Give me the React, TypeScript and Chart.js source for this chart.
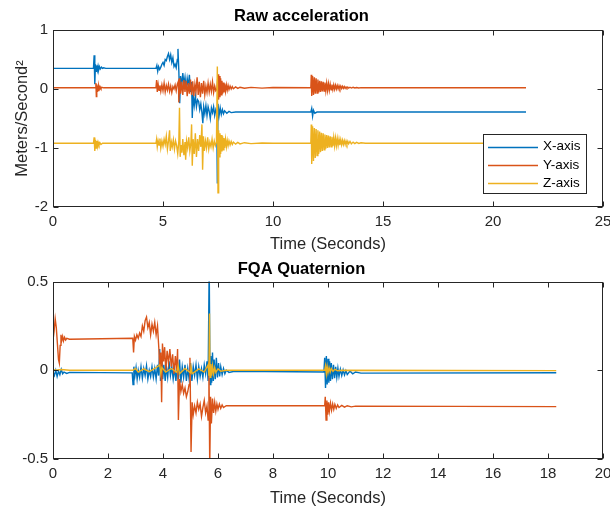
import React, { useEffect, useRef } from "react";
import { Chart, registerables } from "chart.js";

Chart.register(...registerables);

const FONT = "'Liberation Sans', Arial, Helvetica, sans-serif";
const COLORS = ["#0072BD", "#D95319", "#EDB120"];
const seriesNames = ["X-axis", "Y-axis", "Z-axis"];

// ---------- Raw acceleration (top) ----------
const accXTime = [
  0, 1.84, 1.87, 1.9, 1.93, 1.96, 1.99, 2.02, 2.05, 2.08,
  2.11, 2.15, 2.2, 2.25, 2.3, 2.4, 4.68, 4.72, 4.76, 4.8,
  4.85, 4.9, 4.95, 5.0, 5.05, 5.1, 5.15, 5.2, 5.25, 5.3,
  5.35, 5.4, 5.45, 5.5, 5.55, 5.6, 5.65, 5.68, 5.72, 5.76,
  5.8, 5.85, 5.9, 5.95, 6.0, 6.05, 6.1, 6.15, 6.2, 6.25,
  6.3, 6.33, 6.37, 6.42, 6.47, 6.52, 6.57, 6.62, 6.67, 6.72,
  6.77, 6.81, 6.85, 6.9, 6.95, 7.0, 7.05, 7.1, 7.15, 7.2,
  7.25, 7.3, 7.35, 7.4, 7.44, 7.47, 7.5, 7.55, 7.6, 7.65,
  7.7, 7.75, 7.8, 7.9, 8.0, 8.1, 8.3, 11.72, 11.76, 11.8,
  11.84, 11.9, 12.0, 21.5,
];
const accX = [
  0.35, 0.35, 0.57, 0.08, 0.42, 0.3, 0.4, 0.32, 0.39, 0.33,
  0.38, 0.34, 0.37, 0.35, 0.36, 0.35, 0.35, 0.4, 0.3, 0.38,
  0.33, 0.37, 0.42, 0.45, 0.4, 0.5, 0.48, 0.55, 0.6, 0.5,
  0.58, 0.45, 0.53, 0.38, 0.42, 0.36, 0.5, 0.68, 0.3, -0.24,
  0.22, 0.05, 0.27, 0.08, 0.2, 0.0, 0.18, 0.05, 0.24, -0.05,
  0.12, -0.49, -0.1, -0.28, -0.12, -0.3, -0.18, -0.21, -0.35, -0.25,
  -0.4, -0.58, -0.3, -0.42, -0.28, -0.45, -0.3, -0.38, -0.5, -0.32,
  -0.4, -0.3, -0.45, -0.35, -0.4, -1.6, -0.25, -0.45, -0.32, -0.43,
  -0.35, -0.42, -0.37, -0.41, -0.38, -0.4, -0.39, -0.39, -0.33, -0.46,
  -0.36, -0.41, -0.39, -0.39,
];

const accYTime = [
  0, 1.93, 1.95, 1.97, 1.99, 2.01, 2.03, 2.05, 2.08, 2.11,
  2.14, 2.18, 2.22, 2.3, 4.68, 4.71, 4.74, 4.78, 4.82, 4.86,
  4.9, 4.95, 5.0, 5.05, 5.1, 5.15, 5.2, 5.25, 5.3, 5.35,
  5.4, 5.45, 5.5, 5.55, 5.6, 5.65, 5.7, 5.72, 5.76, 5.8,
  5.85, 5.9, 5.95, 6.0, 6.05, 6.1, 6.15, 6.2, 6.25, 6.3,
  6.35, 6.4, 6.45, 6.5, 6.55, 6.6, 6.65, 6.7, 6.75, 6.8,
  6.85, 6.9, 6.95, 7.0, 7.05, 7.1, 7.15, 7.2, 7.25, 7.3,
  7.35, 7.4, 7.45, 7.5, 7.53, 7.56, 7.59, 7.62, 7.65, 7.68,
  7.71, 7.74, 7.77, 7.8, 7.84, 7.88, 7.92, 7.96, 8.0, 8.05,
  8.1, 8.15, 8.2, 8.3, 8.4, 8.5, 8.7, 9.0, 9.5, 10.0,
  11.72, 11.74, 11.76, 11.8, 11.84, 11.88, 11.92, 11.96, 12.0, 12.04,
  12.08, 12.12, 12.16, 12.2, 12.24, 12.28, 12.32, 12.36, 12.4, 12.44,
  12.48, 12.52, 12.56, 12.6, 12.64, 12.68, 12.72, 12.76, 12.8, 12.84,
  12.88, 12.92, 12.96, 13.0, 13.04, 13.08, 13.12, 13.16, 13.2, 13.24,
  13.28, 13.32, 13.36, 13.4, 13.44, 13.5, 13.56, 13.64, 13.72, 13.8,
  13.9, 14.0, 14.2, 21.5,
];
const accY = [
  0.02, 0.02, 0.1, -0.13, 0.08, -0.04, 0.06, -0.02, 0.05, 0.0,
  0.04, 0.01, 0.03, 0.02, 0.02, 0.15, -0.05, 0.08, -0.02, 0.06,
  -0.04, 0.07, -0.03, 0.1, -0.05, 0.06, -0.02, 0.08, -0.04, 0.05,
  -0.06, 0.04, 0.0, 0.07, -0.03, 0.08, 0.13, -0.23, 0.18, -0.08,
  0.12, -0.1, 0.15, -0.05, 0.14, -0.12, 0.1, -0.08, 0.16, -0.1,
  0.13, -0.12, 0.08, -0.05, 0.2, -0.1, 0.12, -0.14, 0.1, -0.08,
  0.14, -0.1, 0.05, -0.06, 0.1, -0.05, 0.08, -0.04, 0.12, -0.06,
  0.05, -0.03, 0.0, 0.25, -0.18, 0.22, -0.14, 0.18, -0.1, 0.14,
  -0.08, 0.11, -0.06, 0.09, -0.04, 0.07, -0.02, 0.06, -0.01, 0.05,
  0.0, 0.04, 0.005, 0.035, 0.01, 0.03, 0.012, 0.028, 0.015, 0.025,
  0.02, 0.24, -0.12, 0.22, -0.1, 0.2, -0.08, 0.18, -0.07, 0.16,
  -0.06, 0.14, -0.05, 0.13, -0.04, 0.12, -0.035, 0.11, -0.03, 0.1,
  -0.025, 0.09, -0.02, 0.08, -0.015, 0.075, -0.01, 0.07, -0.005, 0.065,
  0.0, 0.06, 0.003, 0.055, 0.006, 0.05, 0.008, 0.045, 0.01, 0.04,
  0.012, 0.035, 0.014, 0.032, 0.015, 0.03, 0.016, 0.028, 0.017, 0.026,
  0.018, 0.024, 0.02, 0.02,
];

const accZTime = [
  0, 1.84, 1.87, 1.9, 1.93, 1.96, 1.99, 2.02, 2.05, 2.09,
  2.13, 2.18, 2.25, 4.68, 4.71, 4.74, 4.78, 4.82, 4.86, 4.9,
  4.95, 5.0, 5.05, 5.1, 5.15, 5.2, 5.25, 5.3, 5.33, 5.38,
  5.42, 5.47, 5.52, 5.57, 5.62, 5.67, 5.72, 5.75, 5.78, 5.82,
  5.86, 5.9, 5.95, 6.0, 6.03, 6.07, 6.12, 6.17, 6.22, 6.27,
  6.3, 6.33, 6.37, 6.42, 6.47, 6.52, 6.57, 6.62, 6.67, 6.72,
  6.77, 6.8, 6.84, 6.88, 6.93, 6.98, 7.03, 7.08, 7.13, 7.18,
  7.23, 7.28, 7.33, 7.38, 7.43, 7.47, 7.5, 7.53, 7.56, 7.59,
  7.62, 7.65, 7.68, 7.71, 7.74, 7.77, 7.8, 7.84, 7.88, 7.92,
  7.96, 8.0, 8.05, 8.1, 8.15, 8.2, 8.3, 8.4, 8.5, 8.7,
  9.0, 9.5, 10.0, 11.72, 11.74, 11.76, 11.8, 11.84, 11.88, 11.92,
  11.96, 12.0, 12.04, 12.08, 12.12, 12.16, 12.2, 12.24, 12.28, 12.32,
  12.36, 12.4, 12.44, 12.48, 12.52, 12.56, 12.6, 12.64, 12.68, 12.72,
  12.76, 12.8, 12.84, 12.88, 12.92, 12.96, 13.0, 13.04, 13.08, 13.12,
  13.16, 13.2, 13.24, 13.28, 13.32, 13.36, 13.4, 13.44, 13.5, 13.56,
  13.64, 13.72, 13.8, 13.9, 14.0, 14.2, 21.5,
];
const accZ = [
  -0.92, -0.92, -0.82, -1.05, -0.86, -1.0, -0.88, -0.97, -0.9, -0.95,
  -0.91, -0.94, -0.92, -0.92, -0.85, -0.98, -0.88, -0.95, -0.84, -1.0,
  -0.88, -0.97, -0.85, -0.94, -0.8, -1.02, -0.88, -0.7, -1.05, -0.9,
  -0.98, -0.86, -1.02, -0.88, -0.96, -1.1, -0.88, -0.32, -1.15, -0.95,
  -1.08, -0.85, -1.12, -0.9, -1.2, -0.88, -1.0, -0.82, -1.05, -0.9,
  -0.6, -1.3, -0.85, -1.1, -0.75, -1.15, -0.85, -1.05, -0.78, -0.98,
  -0.6, -1.37, -0.8, -1.05, -0.88, -1.0, -0.82, -1.02, -0.9, -0.98,
  -0.85, -1.0, -0.88, -0.96, -0.9, 0.38, -1.76, -0.7, -1.15, -0.75,
  -1.1, -0.78, -1.06, -0.8, -1.03, -0.83, -1.0, -0.85, -0.98, -0.87,
  -0.96, -0.88, -0.95, -0.89, -0.94, -0.9, -0.935, -0.905, -0.93, -0.91,
  -0.925, -0.915, -0.92, -0.92, -0.6, -1.27, -0.63, -1.22, -0.66, -1.17,
  -0.68, -1.13, -0.7, -1.1, -0.72, -1.07, -0.74, -1.05, -0.75, -1.03,
  -0.77, -1.01, -0.78, -1.0, -0.79, -0.99, -0.8, -0.98, -0.81, -0.97,
  -0.82, -0.965, -0.83, -0.96, -0.84, -0.955, -0.85, -0.95, -0.86, -0.945,
  -0.87, -0.94, -0.875, -0.94, -0.88, -0.935, -0.885, -0.93, -0.89, -0.93,
  -0.9, -0.925, -0.905, -0.922, -0.912, -0.92, -0.92,
];

// ---------- FQA Quaternion (bottom) ----------
const quatXTime = [
  0, 0.05, 0.1, 0.15, 0.2, 0.25, 0.3, 0.35, 0.4, 0.5,
  0.6, 2.88, 2.91, 2.94, 2.98, 3.02, 3.06, 3.1, 3.15, 3.2,
  3.25, 3.3, 3.35, 3.4, 3.45, 3.5, 3.55, 3.6, 3.65, 3.7,
  3.75, 3.8, 3.84, 3.88, 3.91, 3.95, 3.99, 4.03, 4.08, 4.12,
  4.17, 4.22, 4.27, 4.32, 4.37, 4.42, 4.47, 4.52, 4.56, 4.6,
  4.65, 4.7, 4.75, 4.8, 4.85, 4.9, 4.95, 5.0, 5.05, 5.1,
  5.15, 5.2, 5.25, 5.3, 5.35, 5.4, 5.45, 5.5, 5.55, 5.6,
  5.64, 5.68, 5.71, 5.74, 5.77, 5.8, 5.83, 5.86, 5.9, 5.94,
  5.98, 6.02, 6.06, 6.1, 6.15, 6.2, 6.25, 6.3, 6.4, 6.6,
  9.85, 9.88, 9.91, 9.94, 9.97, 10.0, 10.03, 10.06, 10.09, 10.12,
  10.16, 10.2, 10.24, 10.28, 10.32, 10.36, 10.4, 10.45, 10.5, 10.55,
  10.6, 10.65, 10.7, 10.8, 10.9, 11.0, 11.2, 18.3,
];
const quatX = [
  -0.01, -0.03, 0.0, -0.035, -0.005, -0.025, 0.005, -0.02, -0.01, -0.018,
  -0.012, -0.015, -0.08, 0.02, -0.03, 0.015, -0.05, 0.0, -0.04, 0.02,
  -0.045, 0.01, -0.03, 0.025, -0.05, 0.0, -0.035, 0.02, -0.04, 0.01,
  -0.05, 0.03, -0.03, 0.12, -0.06, 0.08, -0.05, 0.03, -0.06, 0.02,
  -0.04, 0.05, -0.03, 0.02, -0.05, 0.01, -0.06, 0.04, -0.05, 0.06,
  -0.07, 0.02, -0.04, 0.03, -0.06, 0.01, -0.05, 0.04, -0.06, 0.02,
  -0.03, 0.03, -0.05, 0.02, -0.035, 0.01, -0.04, 0.03, -0.02, 0.05,
  -0.06, 0.6, -0.08, 0.08, -0.07, 0.1, -0.06, 0.06, -0.05, 0.07,
  -0.04, 0.04, -0.035, 0.02, -0.025, 0.01, -0.02, 0.0, -0.012, -0.006,
  -0.01, 0.07, -0.1, 0.08, -0.08, 0.065, -0.07, 0.05, -0.06, 0.04,
  -0.05, 0.03, -0.045, 0.02, -0.04, 0.012, -0.035, 0.006, -0.03, 0.002,
  -0.027, -0.002, -0.024, -0.005, -0.02, -0.01, -0.016, -0.014,
];

const quatYTime = [
  0, 0.04, 0.08, 0.12, 0.16, 0.2, 0.23, 0.26, 0.29, 0.32,
  0.35, 0.38, 0.42, 0.46, 0.5, 0.6, 2.9, 2.93, 2.96, 3.0,
  3.05, 3.1, 3.15, 3.2, 3.25, 3.3, 3.35, 3.4, 3.45, 3.5,
  3.55, 3.6, 3.65, 3.7, 3.75, 3.8, 3.85, 3.88, 3.92, 3.95,
  3.98, 4.02, 4.06, 4.1, 4.15, 4.2, 4.25, 4.3, 4.35, 4.4,
  4.45, 4.5, 4.53, 4.56, 4.6, 4.65, 4.7, 4.75, 4.8, 4.85,
  4.9, 4.95, 4.98, 5.02, 5.06, 5.1, 5.15, 5.2, 5.25, 5.3,
  5.35, 5.4, 5.45, 5.5, 5.55, 5.6, 5.64, 5.67, 5.7, 5.73,
  5.76, 5.8, 5.84, 5.88, 5.92, 5.96, 6.0, 6.05, 6.1, 6.15,
  6.2, 6.3, 9.88, 9.9, 9.93, 9.96, 9.99, 10.02, 10.05, 10.09,
  10.13, 10.17, 10.21, 10.25, 10.3, 10.35, 10.4, 10.5, 10.6, 10.7,
  10.85, 11.0, 18.3,
];
const quatY = [
  0.17, 0.22, 0.29, 0.24, 0.15, 0.06, 0.04, 0.14, 0.2, 0.17,
  0.19, 0.165, 0.185, 0.17, 0.18, 0.175, 0.18, 0.1, 0.19, 0.17,
  0.2, 0.18, 0.21, 0.19, 0.25, 0.22, 0.28, 0.3, 0.24, 0.27,
  0.2, 0.26, 0.22, 0.27, 0.2, 0.25, 0.12, 0.02, 0.1, -0.18,
  0.15, 0.05, 0.13, 0.0, 0.11, 0.04, 0.12, 0.02, 0.09, -0.02,
  0.08, 0.0, 0.12, -0.28, -0.05, -0.12, -0.08, -0.13, -0.1, -0.15,
  -0.12, -0.08, 0.07, -0.46, -0.18, -0.25, -0.2, -0.24, -0.18, -0.22,
  -0.19, -0.26, -0.21, -0.17, -0.24, -0.2, -0.28, 0.05, -0.55, -0.15,
  -0.3, -0.16, -0.24, -0.18, -0.23, -0.19, -0.22, -0.19, -0.215, -0.195,
  -0.21, -0.2, -0.2, -0.15, -0.28, -0.17, -0.25, -0.18, -0.23, -0.185,
  -0.225, -0.19, -0.22, -0.192, -0.215, -0.195, -0.21, -0.198, -0.208, -0.2,
  -0.206, -0.202, -0.205,
];

const quatZTime = [
  0, 0.1, 0.3, 0.6, 2.9, 3.0, 3.1, 3.3, 3.5, 3.7,
  3.88, 3.92, 3.96, 4.1, 4.3, 4.5, 4.55, 4.6, 4.8, 5.0,
  5.02, 5.06, 5.3, 5.5, 5.64, 5.67, 5.69, 5.71, 5.74, 5.77,
  5.8, 5.84, 5.88, 5.92, 6.0, 6.1, 6.3, 9.88, 9.91, 9.94,
  9.97, 10.0, 10.04, 10.08, 10.12, 10.18, 10.25, 10.35, 10.5, 18.3,
];
const quatZ = [
  0.005, 0.0, 0.004, 0.0, 0.0, 0.01, -0.01, 0.008, -0.008, 0.01,
  0.03, -0.02, 0.015, -0.01, 0.01, -0.012, 0.025, -0.02, 0.01, -0.015,
  0.02, -0.02, 0.008, -0.01, 0.03, -0.03, 0.32, -0.04, 0.035, -0.03,
  0.025, -0.02, 0.015, -0.012, 0.008, -0.005, 0.0, 0.0, 0.025, -0.02,
  0.02, -0.015, 0.015, -0.01, 0.01, -0.006, 0.005, -0.003, 0.0, -0.002,
];

const pts = (t: number[], v: number[]) => t.map((x, i) => ({ x, y: v[i] }));

const boxPlugin = {
  id: "matlabBox",
  afterDatasetsDraw(chart: any) {
    const { ctx, chartArea: a, scales } = chart;
    const L = Math.round(a.left) + 0.5;
    const R = Math.round(a.right) - 0.5;
    const T = Math.round(a.top) + 0.5;
    const B = Math.round(a.bottom) - 0.5;
    const len = 5;
    ctx.save();
    ctx.strokeStyle = "#262626";
    ctx.lineWidth = 1;
    ctx.strokeRect(L, T, R - L, B - T);
    ctx.beginPath();
    scales.x.ticks.forEach((tk: any) => {
      const px = Math.round(scales.x.getPixelForValue(tk.value)) + 0.5;
      ctx.moveTo(px, B);
      ctx.lineTo(px, B - len);
      ctx.moveTo(px, T);
      ctx.lineTo(px, T + len);
    });
    scales.y.ticks.forEach((tk: any) => {
      const py = Math.round(scales.y.getPixelForValue(tk.value)) + 0.5;
      ctx.moveTo(L, py);
      ctx.lineTo(L + len, py);
      ctx.moveTo(R, py);
      ctx.lineTo(R - len, py);
    });
    ctx.stroke();
    ctx.restore();
  },
};

const legendPlugin = {
  id: "matlabLegend",
  afterDraw(chart: any) {
    const { ctx, chartArea: a } = chart;
    const w = 103;
    const h = 59;
    const right = Math.round(a.right) - 17;
    const bottom = Math.round(a.bottom) - 14;
    const left = right - w;
    const top = bottom - h;
    ctx.save();
    ctx.fillStyle = "#ffffff";
    ctx.fillRect(left, top, w, h);
    ctx.strokeStyle = "#262626";
    ctx.lineWidth = 1;
    ctx.strokeRect(left + 0.5, top + 0.5, w, h);
    ctx.font = `13.5px ${FONT}`;
    ctx.textBaseline = "middle";
    ctx.textAlign = "left";
    seriesNames.forEach((name, i) => {
      const y = top + 12.5 + i * 18.3;
      ctx.strokeStyle = COLORS[i];
      ctx.lineWidth = 1.3;
      ctx.beginPath();
      ctx.moveTo(left + 5, Math.round(y) + 0.5);
      ctx.lineTo(left + 55, Math.round(y) + 0.5);
      ctx.stroke();
      ctx.fillStyle = "#000000";
      ctx.fillText(name, left + 60, y);
    });
    ctx.restore();
  },
};

function makeConfig(opts: {
  datasets: any[];
  title: string;
  titlePad: { top: number; bottom: number };
  xMax: number;
  xStep: number;
  yMin: number;
  yMax: number;
  yStep: number;
  yTitle?: string;
  xHeight: number;
  xTitleBottom: number;
  legend: boolean;
}) {
  return {
    type: "line" as const,
    data: { datasets: opts.datasets },
    plugins: opts.legend ? [boxPlugin, legendPlugin] : [boxPlugin],
    options: {
      animation: false as const,
      responsive: false,
      events: [],
      parsing: false as const,
      layout: { padding: { left: 0, right: 7, top: 0, bottom: 0 } },
      elements: { point: { radius: 0 }, line: { tension: 0, borderWidth: 1.4 } },
      plugins: {
        legend: { display: false },
        tooltip: { enabled: false },
        title: {
          display: true,
          text: opts.title,
          color: "#000000",
          font: { family: FONT, size: 16.5, weight: "bold" as const },
          padding: opts.titlePad,
        },
      },
      scales: {
        x: {
          type: "linear" as const,
          min: 0,
          max: opts.xMax,
          grid: { display: false, drawTicks: false },
          border: { display: false },
          ticks: {
            stepSize: opts.xStep,
            autoSkip: false,
            maxRotation: 0,
            padding: 6,
            color: "#262626",
            font: { family: FONT, size: 15 },
          },
          title: {
            display: true,
            text: "Time (Seconds)",
            color: "#262626",
            font: { family: FONT, size: 16.5 },
            padding: { top: 0, bottom: opts.xTitleBottom },
          },
          afterFit: (s: any) => {
            s.height = opts.xHeight;
            s.paddingLeft = 0;
            s.paddingRight = 0;
          },
        },
        y: {
          type: "linear" as const,
          min: opts.yMin,
          max: opts.yMax,
          grid: { display: false, drawTicks: false },
          border: { display: false },
          ticks: {
            stepSize: opts.yStep,
            autoSkip: false,
            padding: 5,
            color: "#262626",
            font: { family: FONT, size: 15 },
          },
          title: {
            display: !!opts.yTitle,
            text: opts.yTitle || "",
            color: "#262626",
            font: { family: FONT, size: 16.5 },
            padding: { top: 13, bottom: 0 },
          },
          afterFit: (s: any) => {
            s.width = 53;
            s.paddingTop = 0;
            s.paddingBottom = 0;
          },
        },
      },
    },
  };
}

function makeDatasets(series: { t: number[]; v: number[] }[]) {
  return series.map((s, i) => ({
    label: seriesNames[i],
    data: pts(s.t, s.v),
    borderColor: COLORS[i],
    backgroundColor: COLORS[i],
    borderWidth: 1.4,
    pointRadius: 0,
    fill: false,
    order: 2 - i,
  }));
}

export default function App() {
  const topRef = useRef<HTMLCanvasElement | null>(null);
  const botRef = useRef<HTMLCanvasElement | null>(null);

  useEffect(() => {
    const top = new Chart(
      topRef.current as HTMLCanvasElement,
      makeConfig({
        datasets: makeDatasets([
          { t: accXTime, v: accX },
          { t: accYTime, v: accY },
          { t: accZTime, v: accZ },
        ]),
        title: "Raw acceleration",
        titlePad: { top: 6.8, bottom: 3.4 },
        xMax: 25,
        xStep: 5,
        yMin: -2,
        yMax: 1,
        yStep: 1,
        yTitle: "Meters/Second\u00B2",
        xHeight: 48,
        xTitleBottom: 1,
        legend: true,
      }) as any
    );
    const bot = new Chart(
      botRef.current as HTMLCanvasElement,
      makeConfig({
        datasets: makeDatasets([
          { t: quatXTime, v: quatX },
          { t: quatYTime, v: quatY },
          { t: quatZTime, v: quatZ },
        ]),
        title: "FQA Quaternion",
        titlePad: { top: 4.1, bottom: 2.6 },
        xMax: 20,
        xStep: 2,
        yMin: -0.5,
        yMax: 0.5,
        yStep: 0.5,
        xHeight: 51,
        xTitleBottom: 2,
        legend: false,
      }) as any
    );
    return () => {
      top.destroy();
      bot.destroy();
    };
  }, []);

  return (
    <div
      style={{
        position: "fixed",
        left: 0,
        top: 0,
        width: 610,
        height: 510,
        background: "#ffffff",
      }}
    >
      <canvas
        ref={topRef}
        width={610}
        height={255}
        style={{ position: "absolute", left: 0, top: 0, width: 610, height: 255 }}
      />
      <canvas
        ref={botRef}
        width={610}
        height={255}
        style={{ position: "absolute", left: 0, top: 255, width: 610, height: 255 }}
      />
    </div>
  );
}
